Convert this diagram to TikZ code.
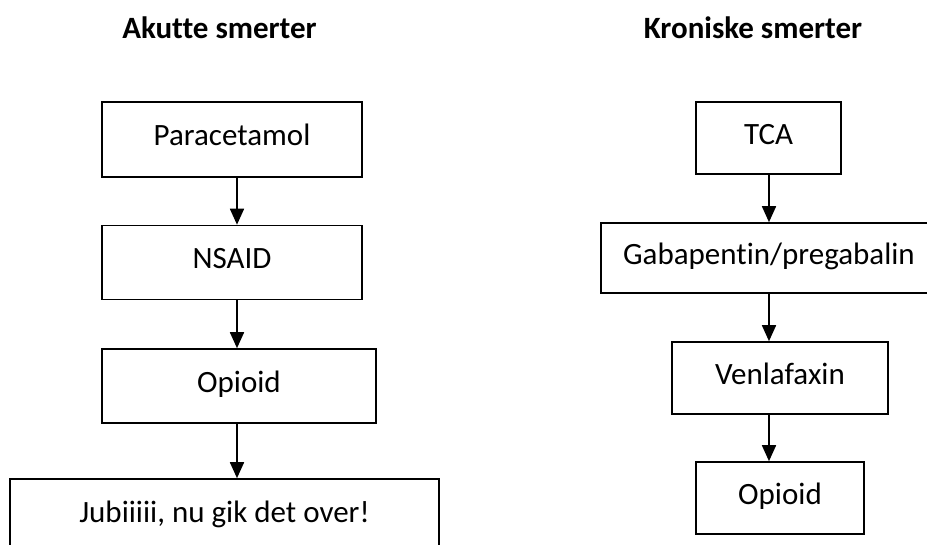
\documentclass[tikz,border=0pt]{standalone}
\usepackage{fontspec}
\setmainfont{Carlito}[Ligatures={NoCommon}]
\usetikzlibrary{arrows.meta}
\begin{document}
\begin{tikzpicture}[x=1pt,y=-1pt,
  box/.style={draw, line width=1.6pt, rectangle, inner sep=0pt,
    text height=22pt, text depth=9pt, font=\fontsize{31}{37}\selectfont},
  arr/.style={line width=1.7pt, -{Triangle[length=16pt,width=14pt]}},
  head/.style={font=\bfseries\fontsize{31}{37}\selectfont, inner sep=0pt}]
\useasboundingbox (0,0) rectangle (927,545);
\clip (0,0) rectangle (927,545);
% headings
\node[head] (h1) at (219.5,28) {Akutte smerter};
\node[head] (h2) at (753,28) {Kroniske smerter};
% left column
\node[box, minimum width=260pt, minimum height=75pt] (p) at (232,139.5) {Paracetamol};
\node[box, minimum width=260pt, minimum height=74pt] (n) at (232,262.5) {NSAID};
\node[box, minimum width=274pt, minimum height=74pt] (o) at (239,386) {Opioid};
\node[box, minimum width=429pt, minimum height=73pt] (j) at (224.5,515.5) {Jubiiiii, nu gik det over!};
\coordinate (ax) at (237,0);
\draw[arr] (p.south -| ax) -- (n.north -| ax);
\draw[arr] (n.south -| ax) -- (o.north -| ax);
\draw[arr] (o.south -| ax) -- (j.north -| ax);
% right column
\node[box, minimum width=145pt, minimum height=72pt] (t) at (768.5,138) {TCA};
\node[box, minimum width=336pt, minimum height=70pt] (g) at (769,258) {Gabapentin/pregabalin};
\node[box, minimum width=216pt, minimum height=72pt] (v) at (780,378) {Venlafaxin};
\node[box, minimum width=168pt, minimum height=72pt] (o2) at (780,498) {Opioid};
\coordinate (bx) at (769,0);
\draw[arr] (t.south -| bx) -- (g.north -| bx);
\draw[arr] (g.south -| bx) -- (v.north -| bx);
\draw[arr] (v.south -| bx) -- (o2.north -| bx);
\end{tikzpicture}
\end{document}
